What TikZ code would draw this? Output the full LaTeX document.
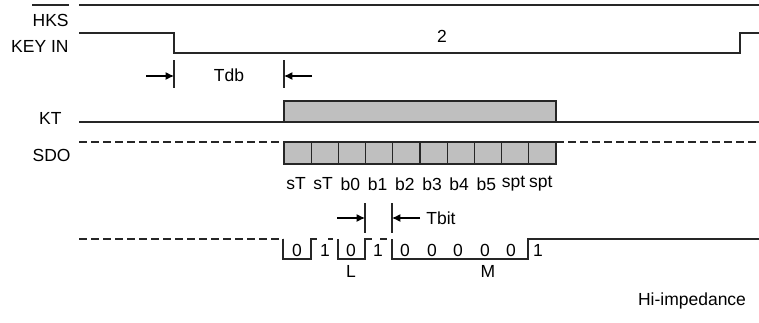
\documentclass[tikz,border=0pt]{standalone}
\usepackage{fontspec}
\setmainfont{Liberation Sans}
\usetikzlibrary{arrows.meta}

\begin{document}
\begin{tikzpicture}[
		x=0.5pt, y=-0.5pt,
		every node/.style={
			font=\fontsize{8.75}{10}\selectfont,
			inner sep=0pt
		},
		siglabel/.style={
			anchor=east
		},
		wave/.style={
			draw=black!85,
			line width=0.55pt
		},
		hiz/.style={
			wave,
			dash pattern=on 4pt off 2pt
		},
		cell/.style={
			rectangle,
			draw=black!85,
			line width=0.55pt,
			fill=black!25,
			minimum width=13.6pt,
			minimum height=11pt
		},
		dimarrow/.style={
			line width=0.55pt,
			-{Latex[length=4.2pt, width=4pt]}
		}
	]
	
	\useasboundingbox (0,0) rectangle (759,322);
	
	% signal names
	\node[siglabel] (hks) at (69,20) {HKS};
	\node[siglabel] (keyin) at (69,46) {KEY IN};
	\node[siglabel] (kt) at (62,118) {KT};
	\node[siglabel] (sdo) at (71,155) {SDO};
	\coordinate (bar) at (0,5);
	\draw[wave] (hks.west |- bar) -- (hks.east |- bar);
	
	% HKS and KEY IN
	\draw[wave] (79,5) -- (759,5);
	\draw[wave] (79,33) -- (174,33) -- (174,53) -- (740,53) -- (740,33) -- (759,33);
	\node (two) at (442,36) {2};
	
	% Tdb
	\coordinate (tdbA) at (174,76);
	\coordinate (tdbB) at (284,76);
	\coordinate (tdbinA) at (146,76);
	\coordinate (tdbinB) at (312,76);
	\draw[wave] (174,60) -- (174,88);
	\draw[wave] (284,60) -- (284,88);
	\draw[dimarrow] (tdbinA) -- (tdbA);
	\draw[dimarrow] (tdbinB) -- (tdbB);
	\node (tdb) at (229,75) {Tdb};
	
	% KT
	\draw[wave] (79,122) -- (284,122);
	\draw[wave] (556,122) -- (759,122);
	\node[cell, minimum width=136pt, minimum height=10.5pt] (ktbox) at (420,111.5) {};
	
	% SDO
	\draw[hiz] (79,142) -- (284,142);
	\draw[hiz] (556,142) -- (759,142);
	\foreach \lab [count=\i from 0] in {sT,sT,b0,b1,b2,b3,b4,b5,spt,spt} {
		\node[cell] (c\i) at ({297.6+27.2*\i},153) {};
		\node (l\i) at ({296+27.2*\i},184) {\lab};
	}
	
	% Tbit
	\coordinate (tbitA) at (365,218);
	\coordinate (tbitB) at (392,218);
	\coordinate (tbitinA) at (337,218);
	\coordinate (tbitinB) at (420,218);
	\draw[wave] (365,203) -- (365,233);
	\draw[wave] (392,203) -- (392,233);
	\draw[dimarrow] (tbitinA) -- (tbitA);
	\draw[dimarrow] (tbitinB) -- (tbitB);
	\node[anchor=west] (tbit) at (426,218) {Tbit};
	
	% serial output
	\draw[hiz] (79,239) -- (283,239);
	\draw[wave] (283,239) -- (283,259) -- (311,259) -- (311,239) -- (317,239);
	\draw[wave] (328,239) -- (333,239);
	\draw[wave] (338,239) -- (338,259) -- (365,259) -- (365,239) -- (372,239);
	\draw[wave] (380,239) -- (387,239);
	\draw[wave] (392,239) -- (392,259) -- (528,259) -- (528,239) -- (759,239);
	\foreach \v/\xb in {0/297,1/325,0/351,1/378,0/405,0/432,0/458,0/485,0/511,1/538} {
		\node at (\xb,250) {\v};
	}
	\node (L) at (351,271) {L};
	\node (M) at (488,271) {M};
	\node (hiimp) at (692,301) {Hi-impedance};
	
\end{tikzpicture}
\end{document}
